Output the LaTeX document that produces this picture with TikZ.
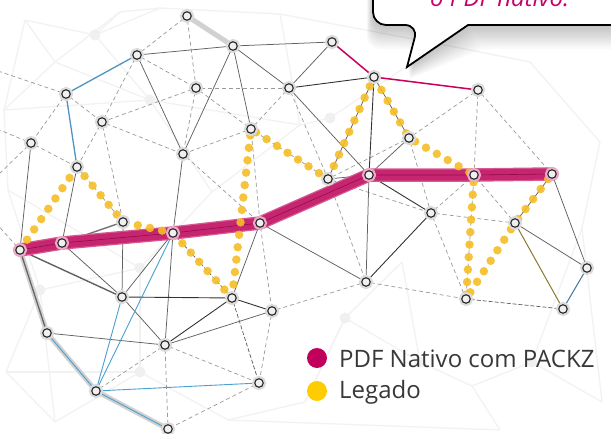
\documentclass[tikz,border=0pt]{standalone}
\usepackage{fontspec}
\setmainfont{Open Sans}
\definecolor{magB}{RGB}{198,38,112}
\definecolor{magE}{RGB}{214,90,145}
\definecolor{magC}{RGB}{150,10,75}
\definecolor{magT}{RGB}{200,0,95}
\definecolor{pinkH}{RGB}{234,170,200}
\definecolor{yel}{RGB}{245,190,38}
\definecolor{legM}{RGB}{192,0,90}
\definecolor{legY}{RGB}{255,204,0}
\definecolor{blueE}{RGB}{74,160,208}
\definecolor{steel}{RGB}{80,147,190}
\definecolor{olive}{RGB}{140,122,50}
\definecolor{bubT}{RGB}{200,0,110}
\pgfdeclarelayer{back}
\pgfdeclarelayer{mid}
\pgfsetlayers{back,mid,main}
\tikzset{
  ndbase/.style={circle, inner sep=0pt, minimum size=8.5pt, draw=black!85, line width=1.1pt, fill=black!6},
  nd/.style={ndbase, preaction={draw=black!14, line width=5.5pt}},
  ndp/.style={ndbase, preaction={draw=pinkH, line width=5.5pt}},
  solidE/.style={draw=black!62, line width=0.75pt},
  darkE/.style={draw=black!80, line width=0.9pt},
  dashE/.style={draw=black!40, line width=0.7pt, dash pattern=on 4pt off 3pt},
  ddashE/.style={draw=black!65, line width=0.7pt, dash pattern=on 4pt off 2pt},
  blueL/.style={draw=blueE, line width=0.9pt},
  steelL/.style={draw=steel, line width=1.3pt},
  haloL/.style={draw=black!18, line width=5pt, line cap=round},
  thinM/.style={draw=magT, line width=1.5pt},
  faint/.style={draw=black!5, line width=1.3pt},
  fdot/.style={circle, fill=black!6, minimum size=11pt, inner sep=0pt},
  legtext/.style={anchor=base west, inner sep=0pt, text=black!78, font=\fontsize{24}{28}\selectfont},
}
\begin{document}
\begin{tikzpicture}[x=1pt,y=-1pt]
\useasboundingbox (0,0) rectangle (611,434);
\clip (0,0) rectangle (611,434);

% nodes
\node[nd] (A) at (187,16) {};
\node[nd] (B) at (233,46) {};
\node[nd] (C) at (137,55) {};
\node[nd] (L) at (332,42) {};
\node[nd] (M) at (374,77) {};
\node[nd] (N) at (478,90) {};
\node[nd] (D) at (66,94) {};
\node[nd] (E) at (196,88) {};
\node[nd] (F) at (289,88) {};
\node[nd] (G) at (102,122) {};
\node[nd] (I) at (251,129) {};
\node[nd] (O) at (409,138) {};
\node[nd] (H) at (31,143) {};
\node[nd] (J) at (183,154) {};
\node[nd] (K) at (77,167) {};
\node[nd] (P) at (328,179) {};
\node[ndp] (Q) at (369,175) {};
\node[ndp] (R) at (474,175) {};
\node[ndp] (S) at (552,174) {};
\node[nd] (T) at (431,213) {};
\node[nd] (W) at (123,222) {};
\node[ndp] (X) at (173,233) {};
\node[ndp] (Y) at (260,223) {};
\node[nd] (AI) at (515,223) {};
\node[ndp] (V) at (62,243) {};
\node[ndp] (U) at (20,250) {};
\node[nd] (AL) at (587,268) {};
\node[nd] (AJ) at (366,282) {};
\node[nd] (Z) at (122,297) {};
\node[nd] (AA) at (232,298) {};
\node[nd] (AK) at (466,299) {};
\node[nd] (AM) at (563,309) {};
\node[nd] (AB) at (272,311) {};
\node[nd] (AC) at (47,333) {};
\node[nd] (AD) at (165,345) {};
\node[nd] (AF) at (259,383) {};
\node[nd] (AE) at (96,391) {};
\node[nd] (AG) at (168,429) {};

% faint background network
\coordinate (b1) at (25,20);   \coordinate (b2) at (95,35);
\coordinate (b3) at (160,8);   \coordinate (b4) at (280,14);
\coordinate (b5) at (55,62);   \coordinate (b6) at (4,110);
\coordinate (b7) at (150,100); \coordinate (b8) at (300,125);
\coordinate (b9) at (8,190);   \coordinate (b10) at (40,290);
\coordinate (b11) at (6,372);  \coordinate (b12) at (55,422);
\coordinate (b13) at (140,372);\coordinate (b14) at (228,420);
\coordinate (b15) at (305,402);\coordinate (b16) at (345,318);
\coordinate (b17) at (420,362);\coordinate (b18) at (472,386);
\coordinate (b19) at (532,362);\coordinate (b20) at (602,402);
\coordinate (b21) at (582,228);\coordinate (b22) at (600,142);
\coordinate (b23) at (530,62); \coordinate (b24) at (440,44);
\coordinate (b25) at (330,118);\coordinate (b26) at (212,192);
\coordinate (b27) at (402,262);\coordinate (b28) at (140,268);
\coordinate (b29) at (120,12); \coordinate (b30) at (500,430);
\begin{pgfonlayer}{back}
\fill[white] (0,0) rectangle (611,434);
\foreach \a/\b in {b1/b2,b2/b3,b3/b4,b1/b5,b5/b6,b2/b7,b7/b8,b5/b7,b6/b9,b9/b10,b10/b11,b11/b12,b12/b13,b13/b14,b14/b15,b15/b16,b16/b17,b17/b18,b18/b19,b19/b20,b20/b21,b21/b22,b22/b23,b23/b24,b24/b25,b25/b8,b8/b26,b26/b28,b28/b10,b27/b16,b27/b17,b13/b28,b4/b8,b29/b3,b29/b5,b1/b6,b9/b28,b12/b10,b14/b30,b30/b18,b19/b21,b24/b4,b2/b29,b7/b26,b6/b7,b16/b15,b11/b13}
  \draw[faint] (\a) -- (\b);
\foreach \c in {b2,b7,b10,b13,b16,b17,b19,b25,b28}
  \node[fdot] at (\c) {};
\end{pgfonlayer}

\coordinate (e1) at (-5,128);
\coordinate (e2) at (-5,178);
\coordinate (e3) at (-5,222);
\coordinate (e4) at (-5,70);

\begin{pgfonlayer}{mid}
% halo lines
\foreach \a/\b in {A/B,U/AC,AC/AE,AE/AG}
  \draw[haloL] (\a.center) -- (\b.center);
% dashed
\foreach \a/\b in {A/C,A/E,C/G,C/E,D/G,D/H,E/F,E/I,E/J,E/G,F/I,F/P,G/K,G/J,H/K,K/W,I/J,J/Y,I/Y,G/W,N/O,N/R,N/S,O/P,O/T,R/AI,T/R,T/AI,T/AK,AJ/AK,P/AJ,P/T,AB/AJ,Y/AB,AB/AF,AD/AF,AD/AG,AF/AG,AE/AD,I/P,R/AK,H/e1,H/e2,U/e3,D/e4}
  \draw[dashE] (\a) -- (\b);
\foreach \a/\b in {AA/AF,X/AA,AK/AM}
  \draw[ddashE] (\a) -- (\b);
% solid
\foreach \a/\b in {B/C,B/L,B/J,B/I,B/F,C/J,F/L,F/Q,H/U,K/V,J/X,Q/AJ,O/Q,W/Z,X/Z,V/Z,Z/AD,X/AD,Y/AA,AD/AB,AC/AD,S/AL,AI/AL,M/P,M/O,AI/S,Y/AJ,P/Q}
  \draw[solidE] (\a) -- (\b);
\foreach \a/\b in {F/M,Q/T,T/AJ,Z/AA,AA/AB,AA/AD,M/Q}
  \draw[darkE] (\a) -- (\b);
\draw[draw=black!62, line width=1.4pt] (U) -- (Z);
\draw[draw=black!55, line width=1.4pt] (W) -- (V);
\draw[draw=black!60, line width=1.3pt] (U) -- (AC);
% blue
\foreach \a/\b in {X/AE,Z/AE,AE/AF,AC/AE,AE/AG}
  \draw[blueL] (\a) -- (\b);
\foreach \a/\b in {C/D,D/K}
  \draw[steelL] (\a) -- (\b);
\draw[draw=steel!80!black, line width=1pt] (AL) -- (AM);
\draw[draw=olive, line width=1pt] (AI) -- (AM);
% magenta thin
\draw[thinM] (L) -- (M);
\draw[thinM] (M) -- (N);
% magenta band
\draw[magE, line width=13.5pt, line join=round, line cap=round]
  (U.center) -- (V.center) -- (X.center) -- (Y.center) -- (Q.center) -- (R.center) -- (S.center);
\draw[magB, line width=11pt, line join=round, line cap=round]
  (U.center) -- (V.center) -- (X.center) -- (Y.center) -- (Q.center) -- (R.center) -- (S.center);
\draw[magC, line width=0.6pt, line join=round]
  (U.center) -- (V.center) -- (X.center) -- (Y.center) -- (Q.center) -- (R.center) -- (S.center);
% yellow legacy dotted path
\draw[yel, opacity=0.9, line width=8.5pt, line cap=round, line join=round, dash pattern=on 0pt off 12.5pt]
  (U.center) -- (K.center) -- (W.center) -- (X.center) -- (AA.center) -- (I.center) -- (P.center) -- (M.center) -- (O.center) -- (R.center) -- (AK.center) -- (AI.center) -- (S.center);
\end{pgfonlayer}

% legend
\node[circle, fill=legM, minimum size=20pt, inner sep=0pt] (lm) at (317,358) {};
\node[circle, fill=legY, minimum size=20pt, inner sep=0pt] (ly) at (317,391) {};
\node[legtext] (lmt) at (339,367) {PDF Nativo com PACKZ};
\node[legtext] (lyt) at (339,398) {Legado};

% speech bubble shadow
\foreach \i in {1,...,10}
  \fill[black, opacity=0.022]
    (373-\i*0.6,-30) [rounded corners=13pt] -- (373-\i*0.6,25+\i*2.4) -- (418,25+\i*2.4) [sharp corners] -- (407+\i*0.3,67+\i*1.2) -- (468+\i*1.5,25+\i*2.4) -- (640,25+\i*2.4) -- (640,-30) -- cycle;
% speech bubble
\draw[fill=white, line width=1.8pt, line join=miter]
  (373,-30) [rounded corners=13pt] -- (373,25) -- (418,25) [sharp corners] -- (407,67) -- (468,25) -- (640,25) -- (640,-30) -- cycle;
\node[anchor=base west, inner sep=0pt, text=bubT, font=\itshape\fontsize{24}{28}\selectfont] (bt) at (430,6) {o PDF nativo.};
\end{tikzpicture}
\end{document}
